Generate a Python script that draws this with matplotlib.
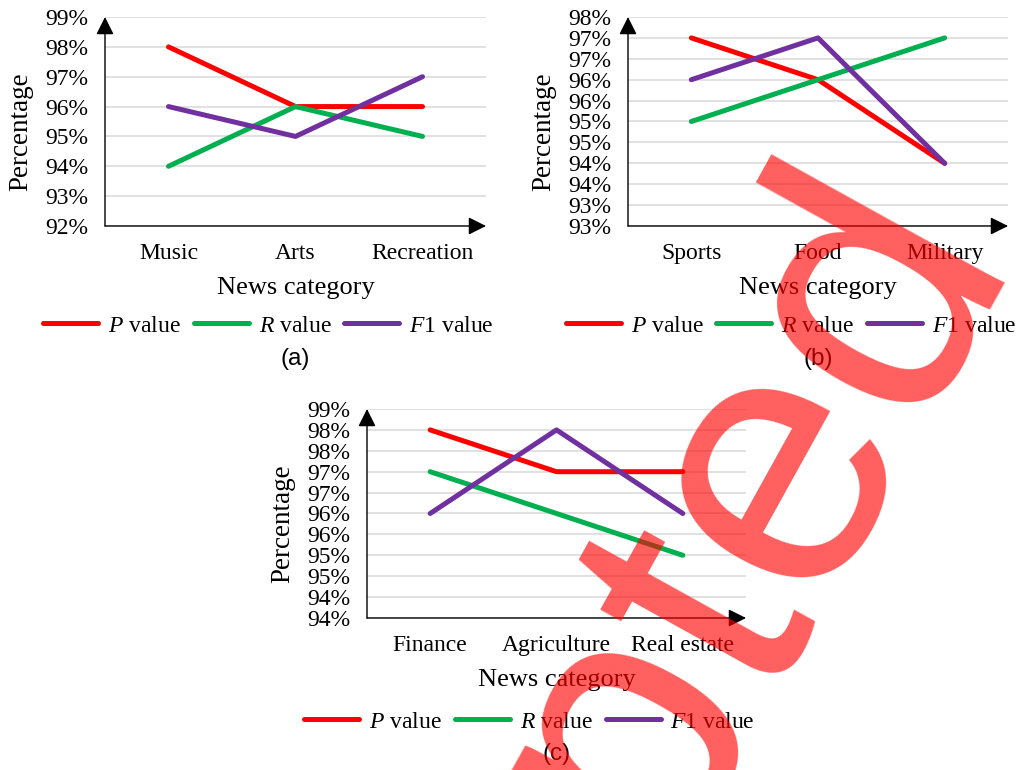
import numpy as np
import matplotlib
matplotlib.use("Agg")
import matplotlib.pyplot as plt

plt.rcParams['font.family'] = ['Liberation Serif', 'DejaVu Serif']
plt.rcParams['mathtext.fontset'] = 'custom'
plt.rcParams['mathtext.rm'] = 'Liberation Serif'
plt.rcParams['mathtext.it'] = 'Liberation Serif:italic'

# (a)
cats_a = ["Music", "Arts", "Recreation"]
p_a = [98.0, 96.0, 96.0]
r_a = [94.0, 96.0, 95.0]
f1_a = [96.0, 95.0, 97.0]
ticks_a = [92, 93, 94, 95, 96, 97, 98, 99]
labels_a = ["92%", "93%", "94%", "95%", "96%", "97%", "98%", "99%"]

# (b)
cats_b = ["Sports", "Food", "Military"]
p_b = [97.0, 96.0, 94.0]
r_b = [95.0, 96.0, 97.0]
f1_b = [96.0, 97.0, 94.0]
ticks_b = [92.5, 93.0, 93.5, 94.0, 94.5, 95.0, 95.5, 96.0, 96.5, 97.0, 97.5]
labels_b = ["93%", "93%", "94%", "94%", "95%", "95%", "96%", "96%", "97%", "97%", "98%"]

# (c)
cats_c = ["Finance", "Agriculture", "Real estate"]
p_c = [98.0, 97.0, 97.0]
r_c = [97.0, 96.0, 95.0]
f1_c = [96.0, 98.0, 96.0]
ticks_c = [93.5, 94.0, 94.5, 95.0, 95.5, 96.0, 96.5, 97.0, 97.5, 98.0, 98.5]
labels_c = ["94%", "94%", "95%", "95%", "96%", "96%", "97%", "97%", "98%", "98%", "99%"]

series_names = [r"$P$ value", r"$R$ value", r"$F$1 value"]
colors = ["#ff0000", "#00b050", "#7030a0"]

W, H = 1018, 770
fig = plt.figure(figsize=(W / 100, H / 100), dpi=100)


def px_axes(left, top, right, bottom):
    return fig.add_axes([left / W, 1 - bottom / H, (right - left) / W, (bottom - top) / H])


def panel(ax, cats, series, ticks, labels, tag, leg_y, tag_y):
    x = np.arange(len(cats))
    for vals, name, col in zip(series, series_names, colors):
        ax.plot(x, vals, color=col, lw=3.6, label=name, zorder=3,
                solid_capstyle='round', solid_joinstyle='round')
    ax.set_xlim(-0.5, len(cats) - 0.5)
    ax.set_ylim(ticks[0], ticks[-1])
    ax.set_yticks(ticks)
    ax.set_yticklabels(labels)
    ax.set_xticks(x)
    ax.set_xticklabels(cats)
    ax.tick_params(length=0, labelsize=17)
    ax.tick_params(axis='y', pad=12)
    ax.tick_params(axis='x', pad=12.5)
    ax.yaxis.grid(True, color='#d9d9d9', lw=1.1)
    ax.set_axisbelow(True)
    for s in ax.spines.values():
        s.set_visible(False)
    arrow = dict(arrowstyle='-|>,head_length=0.72,head_width=0.36', mutation_scale=15,
                 color='black', lw=1.0, shrinkA=0, shrinkB=0)
    ax.annotate('', xy=(1, 0), xytext=(0, 0), xycoords='axes fraction', arrowprops=arrow)
    ax.annotate('', xy=(0, 1), xytext=(0, 0), xycoords='axes fraction', arrowprops=arrow)

    ax.set_ylabel("Percentage", fontsize=19.5)
    ax.set_xlabel("News category", fontsize=19)
    ax.yaxis.set_label_coords(-0.188, 0.45)
    ax.xaxis.set_label_coords(0.5, -0.245)

    ax.legend(loc='center', bbox_to_anchor=(0.429, leg_y), ncol=3, frameon=False,
              fontsize=17, handlelength=2.33, handletextpad=0.42, columnspacing=0.55)
    ax.text(0.5, tag_y, tag, transform=ax.transAxes, ha='center', va='center',
            fontsize=17.5, family='Liberation Sans')


ax_a = px_axes(105, 17, 486, 226)
panel(ax_a, cats_a, [p_a, r_a, f1_a], ticks_a, labels_a, "(a)", -0.478, -0.637)

ax_b = px_axes(628, 17, 1008, 226)
panel(ax_b, cats_b, [p_b, r_b, f1_b], ticks_b, labels_b, "(b)", -0.478, -0.637)

ax_c = px_axes(367, 409, 746, 618)
panel(ax_c, cats_c, [p_c, r_c, f1_c], ticks_c, labels_c, "(c)", -0.497, -0.651)

# stamp across the lower right
fig.text(0.633, -0.209, "Accepted", rotation=61, rotation_mode='anchor',
         ha='center', va='baseline', fontsize=265, family='Liberation Sans',
         color='red', alpha=0.63, zorder=10)

fig.savefig("out.png", dpi=100)
